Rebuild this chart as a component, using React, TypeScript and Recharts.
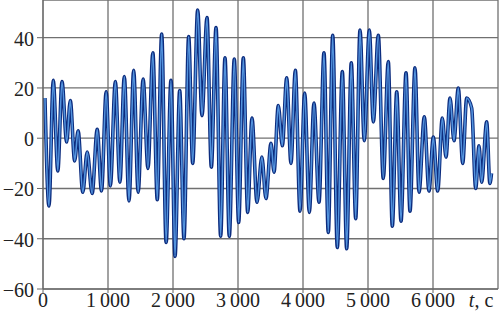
import React from "react";
import { LineChart, Line, XAxis, YAxis, CartesianGrid, Label } from "recharts";

// time (s) of each turning point of the signal and its value
const timeSec: number[] = [
  30, 92, 158, 228, 292, 364, 420, 487, 540, 612, 680, 756, 834, 900, 972,
  1036, 1113, 1183, 1251, 1323, 1395, 1464, 1540, 1615, 1690, 1758, 1826, 1894,
  1969, 2031, 2103, 2169, 2241, 2303, 2380, 2446, 2523, 2590, 2662, 2733, 2800,
  2866, 2943, 3010, 3082, 3149, 3215, 3292, 3367, 3430, 3508, 3554, 3620, 3682,
  3749, 3815, 3882, 3954, 4026, 4097, 4169, 4246, 4323, 4389, 4457, 4528, 4605,
  4672, 4743, 4811, 4877, 4943, 5020, 5082, 5158, 5235, 5312, 5374, 5442, 5508,
  5585, 5646, 5723, 5785, 5866, 5938, 6005, 6072, 6143, 6200, 6262, 6323, 6389,
  6457, 6518, 6595, 6657, 6708, 6748, 6826, 6875, 6900,
];
const signal: number[] = [
  16, -27, 23, -13, 22.5, -1.5, 15, -9, 3, -21.5, -5.5, -22, 3.5, -21, 18.5,
  -19, 22.5, -17.5, 24.5, -25, 27, -21.5, 23.5, -12, 34, -24.5, 41.5, -41.5,
  23, -47, 19, -40, 40.5, -10, 51, 9, 48, -11.5, 44, -39, 32,
  -39, 31.5, -33.5, 32, -29.5, 8, -25.5, -7.5, -24, -2, -13.5, 13, -3,
  24, -10, 27, -29, 18, -29.5, 14, -25.5, 34, -37.5, 41, -43.5, 26.5,
  -44, 30, -32, 43, -1, 43, 6.5, 41, -16, 30.5, -35, 18.5, -33,
  26, -29, 28, -21.5, 8.5, -21, 0.5, -21, 8, -7.5, 16, -1, 20,
  -10, 16, 12, -20, -3, -17.5, 6.5, -18, -14,
];

const xTicks: number[] = [0, 1000, 2000, 3000, 4000, 5000, 6000];
const yTicks: number[] = [-60, -40, -20, 0, 20, 40];
const xDomain: [number, number] = [0, 7000];
const yDomain: [number, number] = [-60, 55];
const unitLabelT = 6740;

const data = timeSec.map((t, i) => ({ t, v: signal[i] }));

const FONT = "Liberation Serif";

const fmtNum = (n: number): string => {
  const neg = n < 0;
  const a = Math.abs(n);
  let s = String(a);
  if (a >= 1000) s = s.slice(0, s.length - 3) + "\u2009" + s.slice(s.length - 3);
  return (neg ? "\u2212" : "") + s;
};

const XTick = (props: any) => {
  const { x, y, payload } = props;
  return (
    <text x={x} y={y} dy={14} textAnchor="middle" style={{ fontFamily: FONT }} fontSize={20} fill="#222">
      {fmtNum(payload.value)}
    </text>
  );
};

const YTick = (props: any) => {
  const { x, y, payload } = props;
  return (
    <text x={x} y={y} dy={8} textAnchor="end" style={{ fontFamily: FONT }} fontSize={20} fill="#222">
      {fmtNum(payload.value)}
    </text>
  );
};

const UnitLabel = (props: any) => {
  const vb = props.viewBox || {};
  const x = vb.x + (vb.width * (unitLabelT - xDomain[0])) / (xDomain[1] - xDomain[0]);
  return (
    <text x={x} y={vb.y + 18} textAnchor="middle" style={{ fontFamily: FONT }} fontSize={20} fill="#222">
      <tspan fontStyle="italic">t</tspan>
      <tspan>, c</tspan>
    </text>
  );
};

export default function App() {
  return (
    <div style={{ position: "absolute", left: 0, top: 0, background: "#fff" }}>
      <LineChart width={500} height={315} data={data} margin={{ top: 0, right: 2, bottom: 0, left: 0 }}>
        <CartesianGrid stroke="#707070" strokeWidth={1.3} />
        <XAxis
          type="number"
          dataKey="t"
          domain={xDomain}
          ticks={xTicks}
          allowDataOverflow
          height={26}
          tickSize={4}
          tickMargin={0}
          stroke="#666"
          tick={<XTick />}
          label={<Label content={<UnitLabel />} />}
        />
        <YAxis
          type="number"
          domain={yDomain}
          ticks={yTicks}
          allowDataOverflow
          width={43}
          tickSize={6}
          tickMargin={3}
          stroke="#666"
          tick={<YTick />}
        />
        <Line
          type="monotone"
          dataKey="v"
          stroke="#0c2c7e"
          strokeWidth={3.6}
          dot={false}
          activeDot={false}
          isAnimationActive={false}
        />
        <Line
          type="monotone"
          dataKey="v"
          stroke="#5b9fe8"
          strokeWidth={1.6}
          strokeOpacity={0.9}
          dot={false}
          activeDot={false}
          isAnimationActive={false}
        />
      </LineChart>
    </div>
  );
}
